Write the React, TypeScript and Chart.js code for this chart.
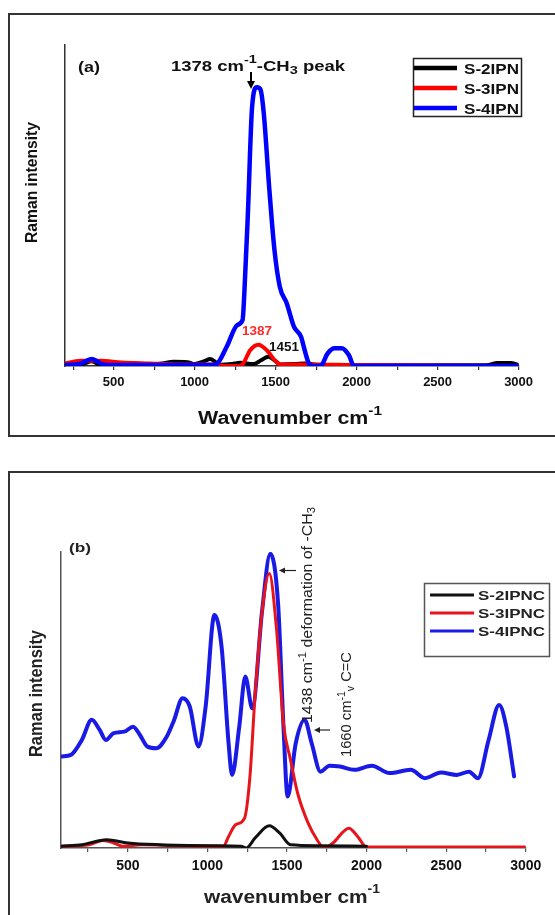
import React, { useEffect, useRef } from "react";
import { Chart, registerables } from "chart.js";
Chart.register(...registerables);

const FONT = '"Liberation Sans", Arial, Helvetica, sans-serif';

// ---------- Panel (a) data ----------
const aLabels = ["S-2IPN", "S-3IPN", "S-4IPN"];
const aS2x = [200, 300, 366, 420, 700, 800, 870, 955, 1000, 1060, 1096, 1130, 1158, 1230, 1281, 1363, 1410, 1455, 1500, 1528, 1620, 1680, 1750, 2000, 2800, 2870, 2950, 3000];
const aS2y = [0.3, 0.5, 1.5, 0.3, 0.3, 0.8, 1.3, 1.2, 0.6, 1.5, 2.2, 1.2, 0.4, 0.6, 1.0, 0.6, 1.8, 2.9, 1.5, 0.5, 0.6, 0.8, 0.4, 0.2, 0.2, 0.9, 0.9, 0.4];
const aS3x = [200, 294, 417, 550, 726, 900, 1137, 1180, 1270, 1300, 1343, 1394, 1446, 1500, 1528, 1700, 2000, 3000];
const aS3y = [0.8, 1.6, 1.6, 1.1, 0.8, 0.5, 0.5, 0, 0, 0.8, 4.9, 6.6, 4.9, 1.5, 0.5, 0.5, 0.3, 0];
const aS4x = [200, 300, 364, 430, 500, 700, 900, 1100, 1133, 1198, 1264, 1296, 1307, 1329, 1355, 1384, 1406, 1427, 1460, 1493, 1526, 1569, 1613, 1657, 1679, 1705, 1722, 1777, 1821, 1864, 1908, 1952, 1984, 2200, 2500, 2800, 3000];
const aS4y = [0.3, 0.8, 2.2, 0.6, 0.3, 0.3, 0.3, 0.3, 0.5, 6, 12.8, 14.3, 22.6, 47.6, 80.8, 86.8, 86.2, 78.7, 55.9, 36.1, 24.7, 19.5, 12.3, 9.1, 5, 0.8, 0, 0, 3.9, 5.5, 5.5, 3.4, 0, 0, 0, 0, 0];

// ---------- Panel (b) data ----------
const bLabels = ["S-2IPNC", "S-3IPNC", "S-4IPNC"];
const bS2x = [82, 211, 367, 500, 700, 1033, 1211, 1244, 1300, 1389, 1455, 1522, 1700, 2000];
const bS2y = [0.6, 1.1, 2.8, 1.7, 1.1, 0.8, 0.6, 0, 3.4, 7.5, 5, 1.1, 0.8, 0.6];
const bS3x = [82, 256, 344, 411, 467, 589, 811, 1100, 1133, 1178, 1233, 1267, 1300, 1344, 1389, 1433, 1478, 1522, 1567, 1633, 1689, 1733, 1789, 1889, 1944, 2000, 3000];
const bS3y = [0.6, 1.1, 2.5, 1.7, 0.6, 1.1, 0.8, 0.6, 3.9, 7.9, 10, 24, 52, 80, 92.7, 74.7, 42, 29.8, 18.5, 8.4, 2.8, 0, 1.7, 6.7, 3.9, 0.3, 0.3];
const bS4x = [82, 144, 211, 273, 322, 362, 411, 478, 533, 578, 622, 678, 744, 789, 844, 889, 944, 989, 1044, 1089, 1133, 1155, 1200, 1238, 1282, 1344, 1395, 1444, 1478, 1504, 1555, 1611, 1655, 1711, 1767, 1833, 1922, 2033, 2144, 2278, 2367, 2467, 2567, 2644, 2700, 2767, 2833, 2878, 2927];
const bS4y = [30.9, 31.5, 36.5, 43.3, 40, 36.5, 38.8, 39.3, 41, 38, 34.3, 33.7, 37.6, 43, 50.6, 47.8, 34.3, 47.8, 78.7, 68, 35.4, 24.7, 41, 57.9, 47.2, 80.3, 99.4, 82.6, 41, 17.4, 35.4, 43.3, 35.4, 25.8, 27.8, 27.5, 26.4, 27.8, 25.3, 26.4, 23.6, 25.5, 24.7, 25.8, 23.6, 36.5, 48.3, 41, 24.2];

// x-axis tick values (minor every 250, labelled every 500)
const xTickValues = [250, 500, 750, 1000, 1250, 1500, 1750, 2000, 2250, 2500, 2750, 3000];
const xLabelStep = 500;

type Run = { t: string; size: number; bold?: boolean; dy?: number };
const fnt = (r: Run) => `${r.bold ? "bold " : ""}${r.size}px ${FONT}`;

function drawRuns(ctx: CanvasRenderingContext2D, runs: Run[], x: number, y: number, target: number, color: string, rotate = false) {
  ctx.save();
  ctx.translate(x, y);
  if (rotate) ctx.rotate(-Math.PI / 2);
  let total = 0;
  for (const r of runs) { ctx.font = fnt(r); total += ctx.measureText(r.t).width; }
  const s = target ? target / total : 1;
  ctx.scale(s, 1);
  ctx.fillStyle = color;
  ctx.textAlign = "left";
  ctx.textBaseline = "alphabetic";
  let cx = 0;
  for (const r of runs) {
    ctx.font = fnt(r);
    ctx.fillText(r.t, cx, r.dy || 0);
    cx += ctx.measureText(r.t).width;
  }
  ctx.restore();
}

function line(ctx: CanvasRenderingContext2D, x1: number, y1: number, x2: number, y2: number, color: string, w: number) {
  ctx.save();
  ctx.strokeStyle = color; ctx.lineWidth = w; ctx.lineCap = "butt";
  ctx.beginPath(); ctx.moveTo(x1, y1); ctx.lineTo(x2, y2); ctx.stroke();
  ctx.restore();
}
function tri(ctx: CanvasRenderingContext2D, pts: number[][], color: string) {
  ctx.save(); ctx.fillStyle = color; ctx.beginPath();
  ctx.moveTo(pts[0][0], pts[0][1]);
  for (let i = 1; i < pts.length; i++) ctx.lineTo(pts[i][0], pts[i][1]);
  ctx.closePath(); ctx.fill(); ctx.restore();
}

function toPts(xs: number[], ys: number[]) { return xs.map((x, i) => ({ x, y: ys[i] })); }

function ds(label: string, xs: number[], ys: number[], color: string, width: number, order: number) {
  return {
    label, data: toPts(xs, ys), borderColor: color, backgroundColor: color, borderWidth: width,
    pointRadius: 0, fill: false, cubicInterpolationMode: "monotone", borderJoinStyle: "round", borderCapStyle: "round", order,
  };
}

function buildOptions(xMin: number, xMax: number, pad: any, xAxisH: number, axisColor: string, tickSize: number, tickPad: number) {
  return {
    responsive: false, maintainAspectRatio: false, animation: false, devicePixelRatio: 1,
    layout: { padding: pad },
    plugins: { legend: { display: false }, tooltip: { enabled: false }, title: { display: false } },
    elements: { point: { radius: 0 } },
    scales: {
      x: {
        type: "linear", min: xMin, max: xMax,
        afterBuildTicks: (s: any) => { s.ticks = xTickValues.map((v) => ({ value: v })); },
        afterFit: (s: any) => { s.height = xAxisH; },
        grid: { drawOnChartArea: false, drawTicks: true, tickLength: 4, color: axisColor, lineWidth: 1.2 },
        border: { display: true, color: axisColor, width: 1.5 },
        ticks: {
          autoSkip: false, maxRotation: 0, minRotation: 0, padding: tickPad, color: "#111",
          font: { family: FONT, size: tickSize, weight: "bold" },
          callback: (v: any) => (Number(v) % xLabelStep === 0 ? String(v) : ""),
        },
      },
      y: {
        min: 0, max: 100,
        afterFit: (s: any) => { s.width = 0; },
        grid: { display: false }, ticks: { display: false },
        border: { display: true, color: axisColor, width: 1.5 },
      },
    },
  };
}

const overlayA = {
  id: "overlayA",
  afterDraw(chart: any) {
    const ctx = chart.ctx as CanvasRenderingContext2D;
    drawRuns(ctx, [{ t: "Raman intensity", size: 17, bold: true }], 36.5, 243, 121, "#111", true);
    drawRuns(ctx, [{ t: "Wavenumber cm", size: 18, bold: true }, { t: "-1", size: 13, bold: true, dy: -9 }], 198, 424, 184, "#111");
    drawRuns(ctx, [{ t: "(a)", size: 14, bold: true }], 78, 72, 22, "#111");
    drawRuns(ctx, [
      { t: "1378 cm", size: 14, bold: true },
      { t: "-1", size: 11, bold: true, dy: -8 },
      { t: "-CH", size: 14, bold: true },
      { t: "3", size: 11, bold: true, dy: 3 },
      { t: " peak", size: 14, bold: true },
    ], 171, 71, 174, "#111");
    line(ctx, 251, 72, 251, 83, "#000", 2);
    tri(ctx, [[247, 81], [255, 81], [251, 89]], "#000");
    drawRuns(ctx, [{ t: "1387", size: 13, bold: true }], 242, 335, 30, "#ff2a2a");
    drawRuns(ctx, [{ t: "1451", size: 13, bold: true }], 269, 351, 30, "#111");
    ctx.save(); ctx.strokeStyle = "#222"; ctx.lineWidth = 1.5;
    ctx.strokeRect(413.5, 58.5, 108, 58); ctx.restore();
    const cols = ["#000000", "#ff0000", "#0000ff"];
    aLabels.forEach((lab, i) => {
      const cy = 68 + i * 20;
      line(ctx, 414, cy, 457, cy, cols[i], 4.5);
      drawRuns(ctx, [{ t: lab, size: 15, bold: true }], 464, cy + 5.5, 55, "#111");
    });
  },
};

const overlayB = {
  id: "overlayB",
  afterDraw(chart: any) {
    const ctx = chart.ctx as CanvasRenderingContext2D;
    drawRuns(ctx, [{ t: "Raman intensity", size: 18, bold: true }], 42, 302, 127, "#222", true);
    drawRuns(ctx, [{ t: "wavenumber cm", size: 18, bold: true }, { t: "-1", size: 12, bold: true, dy: -10 }], 204, 448, 176, "#222");
    drawRuns(ctx, [{ t: "(b)", size: 12, bold: true }], 69, 97, 22, "#222");
    drawRuns(ctx, [
      { t: "1438 cm", size: 14 },
      { t: "-1", size: 10, dy: -6 },
      { t: " deformation of -CH", size: 14 },
      { t: "3", size: 10, dy: 3 },
    ], 311.5, 268, 216, "#222", true);
    drawRuns(ctx, [
      { t: "1660 cm", size: 14 },
      { t: "-1", size: 10, dy: -6 },
      { t: "v", size: 10, dy: 3 },
      { t: " C=C", size: 14 },
    ], 351, 302, 105, "#222", true);
    line(ctx, 284, 115.5, 296, 115.5, "#222", 1.2);
    tri(ctx, [[279, 115.5], [285, 112.5], [285, 118.5]], "#222");
    line(ctx, 319, 275, 330, 275, "#222", 1.2);
    tri(ctx, [[314, 275], [320, 272], [320, 278]], "#222");
    ctx.save(); ctx.strokeStyle = "#555"; ctx.lineWidth = 1.5;
    ctx.strokeRect(424.5, 128.5, 125, 73); ctx.restore();
    const cols = ["#111111", "#e8141c", "#1a1ae6"];
    bLabels.forEach((lab, i) => {
      const cy = 140 + i * 18;
      line(ctx, 430, cy, 474, cy, cols[i], 3);
      drawRuns(ctx, [{ t: lab, size: 13, bold: true }], 478, cy + 5, 67, "#222");
    });
  },
};

export default function App() {
  const refA = useRef<HTMLCanvasElement>(null);
  const refB = useRef<HTMLCanvasElement>(null);

  useEffect(() => {
    const chartA = new Chart(refA.current as HTMLCanvasElement, {
      type: "line",
      data: {
        datasets: [
          ds(aLabels[0], aS2x, aS2y, "#000000", 4, 2),
          ds(aLabels[1], aS3x, aS3y, "#ff0000", 4, 1),
          ds(aLabels[2], aS4x, aS4y, "#0000ff", 4.5, 0),
        ] as any,
      },
      options: buildOptions(200, 3000, { left: 65, top: 45, right: 36.4, bottom: 0 }, 84, "#333", 13, 5) as any,
      plugins: [overlayA],
    });
    const chartB = new Chart(refB.current as HTMLCanvasElement, {
      type: "line",
      data: {
        datasets: [
          ds(bLabels[0], bS2x, bS2y, "#111111", 3, 0),
          ds(bLabels[1], bS3x, bS3y, "#e8141c", 3, 1),
          ds(bLabels[2], bS4x, bS4y, "#1a1ae6", 4, 2),
        ] as any,
      },
      options: buildOptions(80, 3000, { left: 61, top: 97, right: 29.3, bottom: 0 }, 67, "#555", 14, 6) as any,
      plugins: [overlayB],
    });
    return () => { chartA.destroy(); chartB.destroy(); };
  }, []);

  return (
    <div style={{ position: "fixed", left: 0, top: 0, width: 555, height: 915, overflow: "hidden", background: "#fff" }}>
      <canvas ref={refA} width={555} height={450} style={{ position: "absolute", left: 0, top: 0, width: 555, height: 450 }} />
      <canvas ref={refB} width={555} height={460} style={{ position: "absolute", left: 0, top: 455, width: 555, height: 460 }} />
      <div style={{ position: "absolute", left: 8, top: 13, width: 600, height: 424, border: "2px solid #333", boxSizing: "border-box" }} />
      <div style={{ position: "absolute", left: 8, top: 471, width: 600, height: 500, border: "2px solid #333", boxSizing: "border-box" }} />
    </div>
  );
}
